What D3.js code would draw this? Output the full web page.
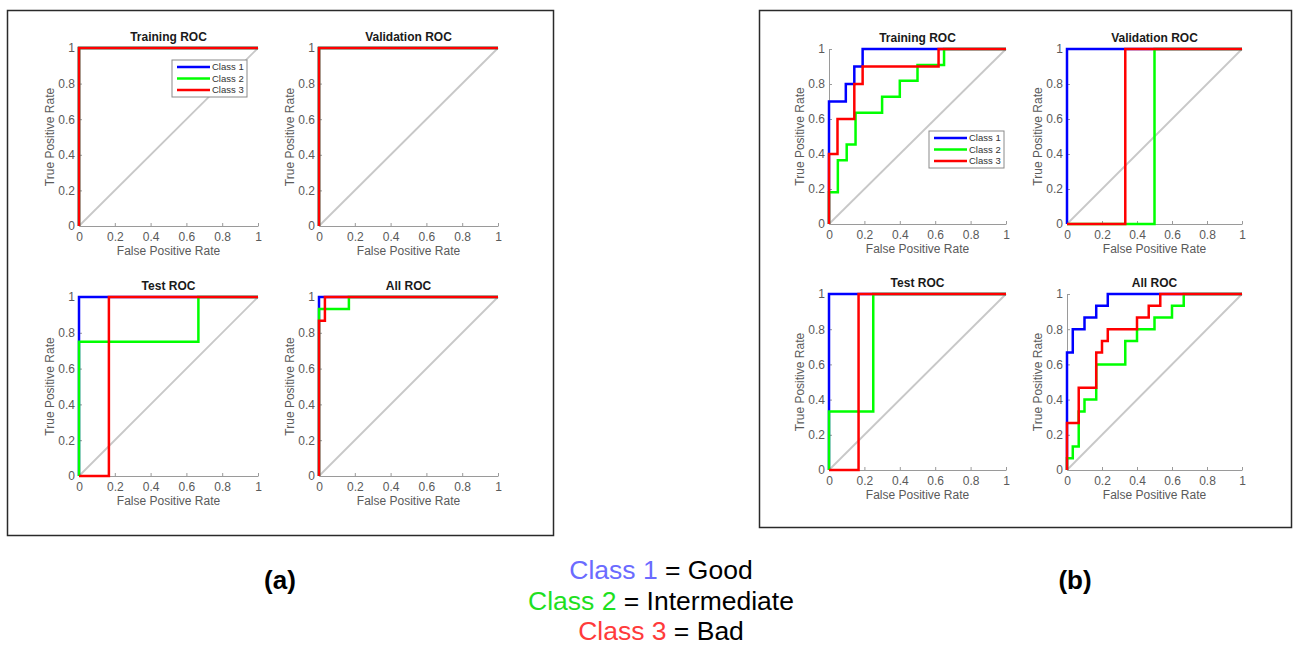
<!DOCTYPE html>
<html>
<head>
<meta charset="utf-8">
<script src="https://cdn.jsdelivr.net/npm/d3@7"></script>
<style>
  body { margin: 0; background: #fff; }
  svg { display: block; font-family: Arial, "Liberation Sans", sans-serif; }
</style>
</head>
<body>
<svg id="chart" width="1295" height="646"></svg>
<script>
// class names and the four panel titles
const classes = ["Class 1", "Class 2", "Class 3"];
const titles = ["Training ROC", "Validation ROC", "Test ROC", "All ROC"];
const ticks = [0, 0.2, 0.4, 0.6, 0.8, 1];
const meanings = ["Good", "Intermediate", "Bad"];

// ROC operating points [fpr, tpr] per class, drawn as steps (step-after)
// figure (a)
const aTraining = [
  [[0, 0], [0, 1], [1, 1]],
  [[0, 0], [0, 1], [1, 1]],
  [[0, 0], [0, 1], [1, 1]]
];
const aValidation = [
  [[0, 0], [0, 1], [1, 1]],
  [[0, 0], [0, 1], [1, 1]],
  [[0, 0], [0, 1], [1, 1]]
];
const aTest = [
  [[0, 0], [0, 1], [1, 1]],
  [[0, 0], [0, 0.75], [0.667, 1], [1, 1]],
  [[0, 0], [0.167, 1], [1, 1]]
];
const aAll = [
  [[0, 0], [0, 1], [1, 1]],
  [[0, 0], [0, 0.933], [0.167, 1], [1, 1]],
  [[0, 0], [0, 0.867], [0.033, 1], [1, 1]]
];

// figure (b)
const bTraining = [
  [[0, 0], [0, 0.7], [0.095, 0.8], [0.143, 0.9], [0.19, 1], [1, 1]],
  [[0, 0], [0, 0.182], [0.05, 0.364], [0.1, 0.455], [0.15, 0.636], [0.3, 0.727],
   [0.4, 0.818], [0.5, 0.909], [0.65, 1], [1, 1]],
  [[0, 0], [0, 0.4], [0.048, 0.6], [0.143, 0.8], [0.19, 0.9], [0.619, 1], [1, 1]]
];
const bValidation = [
  [[0, 0], [0, 1], [1, 1]],
  [[0, 0], [0.5, 1], [1, 1]],
  [[0, 0], [0.333, 1], [1, 1]]
];
const bTest = [
  [[0, 0], [0, 1], [1, 1]],
  [[0, 0], [0, 0.333], [0.25, 1], [1, 1]],
  [[0, 0], [0.167, 1], [1, 1]]
];
const bAll = [
  [[0, 0], [0, 0.667], [0.033, 0.8], [0.1, 0.867], [0.167, 0.933], [0.233, 1], [1, 1]],
  [[0, 0], [0, 0.067], [0.033, 0.133], [0.067, 0.333], [0.1, 0.4], [0.167, 0.6],
   [0.333, 0.733], [0.4, 0.8], [0.5, 0.867], [0.6, 0.933], [0.667, 1], [1, 1]],
  [[0, 0], [0, 0.267], [0.067, 0.467], [0.167, 0.667], [0.2, 0.733], [0.233, 0.8],
   [0.4, 0.867], [0.467, 0.933], [0.533, 1], [1, 1]]
];

const LINE_COLORS = ["#0000ff", "#00ff00", "#ff0000"];
const TEXT_COLORS = ["#6b6bff", "#1fe01f", "#ff3b3b"];

const svg = d3.select("#chart");

// outer frames
svg.append("rect").attr("x", 7.5).attr("y", 10.5).attr("width", 546).attr("height", 525)
  .attr("fill", "none").attr("stroke", "#2a2a2a").attr("stroke-width", 1.5);
svg.append("rect").attr("x", 759.5).attr("y", 10.5).attr("width", 532).attr("height", 517)
  .attr("fill", "none").attr("stroke", "#2a2a2a").attr("stroke-width", 1.5);

function drawPanel(data, title, left, top, w, h, legendAt) {
  const x = d3.scaleLinear().domain([0, 1]).range([left, left + w]);
  const y = d3.scaleLinear().domain([0, 1]).range([top + h, top]);
  const g = svg.append("g");

  g.append("g")
    .attr("transform", `translate(0,${top + h})`)
    .call(d3.axisBottom(x).tickValues(ticks).tickFormat(d3.format("~g"))
      .tickSizeInner(-3).tickSizeOuter(0).tickPadding(6))
    .call(a => a.select(".domain").attr("stroke", "#9a9a9a"))
    .call(a => a.selectAll(".tick line").attr("stroke", "#9a9a9a"))
    .call(a => a.selectAll("text").attr("fill", "#5a5a5a").attr("font-size", 12));

  g.append("g")
    .attr("transform", `translate(${left},0)`)
    .call(d3.axisLeft(y).tickValues(ticks).tickFormat(d3.format("~g"))
      .tickSizeInner(-3).tickSizeOuter(0).tickPadding(4))
    .call(a => a.select(".domain").attr("stroke", "#9a9a9a"))
    .call(a => a.selectAll(".tick line").attr("stroke", "#9a9a9a"))
    .call(a => a.selectAll("text").attr("fill", "#5a5a5a").attr("font-size", 12));

  // chance diagonal
  g.append("line")
    .attr("x1", x(0)).attr("y1", y(0)).attr("x2", x(1)).attr("y2", y(1))
    .attr("stroke", "#c8c8c8").attr("stroke-width", 1.8);

  const line = d3.line().x(d => x(d[0])).y(d => y(d[1])).curve(d3.curveStepAfter);
  data.forEach((pts, i) => {
    g.append("path").attr("d", line(pts))
      .attr("fill", "none").attr("stroke", LINE_COLORS[i]).attr("stroke-width", 2.5);
  });

  g.append("text").attr("x", left + w / 2).attr("y", top - 7)
    .attr("text-anchor", "middle").attr("font-weight", "bold").attr("font-size", 12)
    .attr("fill", "#1a1a1a").text(title);
  g.append("text").attr("x", left + w / 2).attr("y", top + h + 29)
    .attr("text-anchor", "middle").attr("font-size", 12).attr("fill", "#5a5a5a")
    .text("False Positive Rate");
  g.append("text")
    .attr("transform", `translate(${left - 25},${top + h / 2}) rotate(-90)`)
    .attr("text-anchor", "middle").attr("font-size", 12).attr("fill", "#5a5a5a")
    .text("True Positive Rate");

  if (legendAt) {
    const [lx, ly] = legendAt;
    const lg = g.append("g").attr("transform", `translate(${lx},${ly})`);
    lg.append("rect").attr("width", 75).attr("height", 37)
      .attr("fill", "#fff").attr("stroke", "#8a8a8a").attr("stroke-width", 1);
    classes.forEach((c, i) => {
      const yy = 7 + i * 11.5;
      lg.append("line").attr("x1", 5).attr("x2", 38).attr("y1", yy).attr("y2", yy)
        .attr("stroke", LINE_COLORS[i]).attr("stroke-width", 2.5);
      lg.append("text").attr("x", 40).attr("y", yy + 3.3)
        .attr("font-size", 9.5).attr("fill", "#333").text(c);
    });
  }
}

// figure (a)
drawPanel(aTraining, titles[0], 79, 48, 179, 178, [172, 60]);
drawPanel(aValidation, titles[1], 319, 48, 179, 178);
drawPanel(aTest, titles[2], 79, 297, 179, 179);
drawPanel(aAll, titles[3], 319, 297, 179, 179);

// figure (b)
drawPanel(bTraining, titles[0], 829, 49, 177, 175, [929, 131]);
drawPanel(bValidation, titles[1], 1067, 49, 175, 175);
drawPanel(bTest, titles[2], 829, 294, 177, 176);
drawPanel(bAll, titles[3], 1067, 294, 175, 176);

// panel letters
svg.append("text").attr("x", 280).attr("y", 589).attr("text-anchor", "middle")
  .attr("font-weight", "bold").attr("font-size", 26).attr("fill", "#000").text("(a)");
svg.append("text").attr("x", 1075).attr("y", 589).attr("text-anchor", "middle")
  .attr("font-weight", "bold").attr("font-size", 26).attr("fill", "#000").text("(b)");

// class key
classes.forEach((c, i) => {
  const t = svg.append("text").attr("x", 661).attr("y", 579 + i * 30.5)
    .attr("text-anchor", "middle").attr("font-size", 26.5);
  t.append("tspan").attr("fill", TEXT_COLORS[i]).text(c);
  t.append("tspan").attr("fill", "#000").text(" = " + meanings[i]);
});
</script>
</body>
</html>
